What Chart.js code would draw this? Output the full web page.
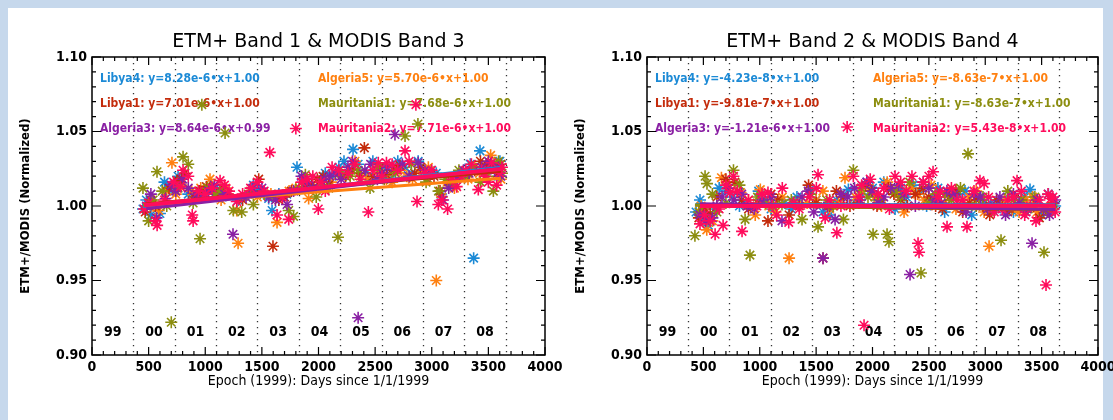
<!DOCTYPE html>
<html>
<head>
<meta charset="utf-8">
<script src="https://cdn.jsdelivr.net/npm/chart.js@4.4.1/dist/chart.umd.min.js"></script>
<style>
  html, body { margin: 0; padding: 0; background: #c6d8ec; width: 1113px; height: 420px; overflow: hidden; }
  #panel { position: absolute; left: 8px; top: 8px; width: 1095px; height: 412px; background: #fff; }
  #c1 { position: absolute; left: 8px; top: 8px; }
  #c2 { position: absolute; left: 556px; top: 8px; }
</style>
</head>
<body>
<div id="panel"></div>
<canvas id="c1" width="560" height="412"></canvas>
<canvas id="c2" width="557" height="412"></canvas>
<script>
// ================= DATA =================
const sites = ['Libya4', 'Algeria5', 'Libya1', 'Mauritania1', 'Algeria3', 'Mauritania2'];
const siteColors = ['#1c8ad6', '#ff8010', '#c42c0c', '#8c8e10', '#8a20a4', '#ff0c5c'];

// year boundaries (days since 1/1/1999) and their labels
const yearStarts = [0, 365, 731, 1096, 1461, 1826, 2192, 2557, 2922, 3287, 3653];
const yearLabels = ['99', '00', '01', '02', '03', '04', '05', '06', '07', '08'];
const xTicks = [0, 500, 1000, 1500, 2000, 2500, 3000, 3500, 4000];
const yTicks = [0.90, 0.95, 1.00, 1.05, 1.10];

// fit coefficients
const band1Slopes = [8.28e-6, 5.70e-6, 7.01e-6, 7.68e-6, 8.64e-6, 7.71e-6];
const band1Intercepts = [0.996, 0.998, 0.998, 0.997, 0.994, 0.997];
const band2Slopes = [-4.23e-8, -8.63e-7, -9.81e-7, -8.63e-7, -1.21e-6, 5.43e-8];
const band2Intercepts = [1.001, 1.001, 1.001, 1.001, 1.002, 1.000];

// ETM+ Band 1 / MODIS Band 3 : [day, ratio]
const band1Libya4 = [[450,0.998],[480,1.004],[520,0.994],[600,0.995],[640,1.016],[690,1.013],[720,1.010],[760,1.020],[850,1.008],[960,1.010],[1000,1.006],[1060,1.012],[1110,1.010],[1150,1.006],[1290,1.004],[1425,1.014],[1470,1.010],[1560,1.005],[1590,0.997],[1650,1.008],[1720,1.008],[1810,1.026],[1860,1.018],[1900,1.014],[2010,1.016],[2060,1.022],[2120,1.020],[2180,1.026],[2225,1.030],[2305,1.038],[2350,1.028],[2420,1.022],[2480,1.030],[2560,1.024],[2600,1.026],[2640,1.018],[2700,1.030],[2760,1.026],[2820,1.022],[2880,1.030],[2990,1.024],[3040,1.022],[3080,1.008],[3180,1.015],[3300,1.022],[3340,1.028],[3370,0.965],[3426,1.037],[3460,1.022],[3500,1.026],[3550,1.028],[3590,1.020],[3602,1.030]];
const band1Algeria5 = [[500,1.002],[540,1.000],[590,0.997],[660,1.010],[706,1.029],[740,1.008],[790,1.014],[880,1.010],[960,1.012],[1042,1.018],[1140,1.004],[1180,1.012],[1278,0.997],[1290,0.975],[1400,1.010],[1460,1.006],[1520,1.008],[1580,1.008],[1634,0.989],[1740,1.010],[1800,1.012],[1913,1.005],[2000,1.014],[2050,1.018],[2110,1.016],[2200,1.020],[2270,1.024],[2322,1.030],[2370,1.020],[2430,1.018],[2540,1.022],[2600,1.018],[2650,1.016],[2720,1.024],[2780,1.020],[2830,1.018],[2900,1.022],[2970,1.026],[3040,0.950],[3090,1.006],[3150,1.014],[3200,1.012],[3320,1.018],[3380,1.026],[3420,1.022],[3470,1.024],[3520,1.034],[3570,1.028],[3610,1.018]];
const band1Libya1 = [[470,0.996],[520,1.004],[560,1.000],[680,1.012],[750,1.017],[790,1.018],[820,1.022],[900,1.006],[950,1.010],[1010,1.013],[1100,1.008],[1150,1.012],[1200,1.008],[1330,1.004],[1420,1.010],[1472,1.018],[1598,0.973],[1650,1.004],[1700,1.006],[1760,1.010],[1880,1.012],[1940,1.014],[1990,1.018],[2040,1.020],[2090,1.014],[2180,1.022],[2240,1.020],[2300,1.024],[2360,1.022],[2405,1.039],[2480,1.020],[2540,1.026],[2600,1.021],[2660,1.024],[2720,1.027],[2850,1.022],[2900,1.026],[2960,1.018],[3020,1.020],[3073,1.010],[3150,1.016],[3260,1.020],[3320,1.022],[3380,1.024],[3430,1.030],[3480,1.028],[3540,1.026],[3580,1.022],[3610,1.028]];
const band1Mauritania1 = [[450,1.012],[500,0.990],[540,1.004],[574,1.023],[620,1.010],[660,1.000],[700,0.922],[760,1.012],[804,1.033],[850,1.028],[893,1.002],[954,0.978],[970,1.068],[1020,1.012],[1080,1.008],[1130,1.010],[1175,1.049],[1248,0.997],[1322,0.996],[1380,1.008],[1425,1.001],[1520,1.008],[1600,1.006],[1737,0.997],[1780,0.993],[1830,1.012],[1884,1.021],[1980,1.006],[2030,1.016],[2090,1.012],[2172,0.979],[2200,1.022],[2280,1.020],[2350,1.024],[2455,1.012],[2520,1.026],[2580,1.018],[2680,1.022],[2764,1.047],[2820,1.028],[2878,1.055],[2950,1.016],[3060,1.010],[3120,1.018],[3190,1.014],[3240,1.024],[3300,1.020],[3360,1.026],[3430,1.016],[3490,1.020],[3544,1.010],[3590,1.030],[3620,1.022]];
const band1Algeria3 = [[480,1.000],[520,1.008],[570,0.992],[650,1.005],[700,1.014],[740,1.010],[800,1.018],[850,1.012],[920,1.008],[980,1.006],[1030,1.010],[1080,1.014],[1170,1.008],[1245,0.981],[1360,1.006],[1420,1.012],[1500,1.012],[1560,1.006],[1620,1.004],[1722,1.001],[1780,1.010],[1850,1.020],[1900,1.016],[1950,1.012],[2050,1.018],[2100,1.020],[2150,1.022],[2200,1.018],[2260,1.026],[2300,1.030],[2350,0.925],[2410,1.024],[2460,1.028],[2520,1.018],[2560,1.022],[2610,1.026],[2675,1.048],[2740,1.028],[2800,1.020],[2880,1.029],[2940,1.024],[2990,1.022],[3100,1.004],[3150,1.012],[3220,1.018],[3280,1.024],[3330,1.022],[3440,1.026],[3500,1.030],[3555,1.024],[3590,1.026],[3610,1.020]];
const band1Mauritania2 = [[460,0.998],[500,1.002],[560,0.990],[575,0.987],[640,1.004],[720,1.016],[780,1.013],[804,1.024],[850,1.020],[885,0.994],[893,0.990],[940,1.010],[1000,1.008],[1060,1.012],[1131,1.017],[1170,1.014],[1210,1.010],[1278,1.003],[1330,1.008],[1400,1.012],[1460,1.016],[1520,1.010],[1570,1.036],[1634,0.994],[1680,1.006],[1737,0.991],[1800,1.052],[1850,1.016],[1898,1.018],[1950,1.020],[1998,0.998],[2020,1.016],[2060,1.010],[2120,1.026],[2180,1.024],[2260,1.022],[2320,1.028],[2370,1.018],[2440,0.996],[2480,1.024],[2528,1.029],[2560,1.020],[2600,1.029],[2650,1.028],[2700,1.024],[2764,1.037],[2800,1.030],[2860,1.068],[2870,1.003],[2940,1.022],[3000,1.024],[3058,1.001],[3088,1.004],[3140,0.998],[3180,1.018],[3220,1.013],[3260,1.020],[3300,1.024],[3350,1.028],[3411,1.011],[3440,1.024],[3470,1.020],[3500,1.016],[3529,1.029],[3573,1.014],[3600,1.022],[3620,1.026]];

// ETM+ Band 2 / MODIS Band 4 : [day, ratio]
const band2Libya4 = [[435,0.996],[470,1.004],[520,0.993],[545,0.987],[600,0.998],[640,1.012],[700,1.010],[760,1.006],[820,1.000],[880,1.002],[990,1.010],[1050,1.004],[1100,0.998],[1220,1.002],[1280,0.998],[1330,1.006],[1448,1.011],[1500,1.004],[1560,0.996],[1620,0.994],[1680,1.004],[1786,1.011],[1850,1.002],[1900,1.008],[1950,1.016],[2000,1.012],[2050,1.004],[2100,1.016],[2200,0.998],[2250,1.012],[2300,1.006],[2360,1.014],[2420,1.010],[2480,1.000],[2530,1.004],[2580,1.012],[2640,0.996],[2700,1.004],[2760,1.008],[2820,1.010],[2880,0.994],[2950,1.006],[2990,1.002],[3050,1.002],[3100,0.998],[3200,1.006],[3250,0.996],[3300,1.000],[3350,1.006],[3397,1.011],[3450,1.002],[3500,0.994],[3560,1.008],[3620,1.000]];
const band2Algeria5 = [[480,1.000],[530,0.984],[580,0.990],[660,1.019],[720,1.014],[830,1.009],[900,1.004],[960,0.994],[1005,1.011],[1080,1.000],[1140,0.996],[1200,1.006],[1260,0.965],[1350,1.002],[1420,1.002],[1500,1.004],[1560,1.010],[1620,0.998],[1700,1.002],[1756,1.019],[1850,1.006],[1900,1.010],[1960,1.014],[2020,1.006],[2080,1.000],[2130,1.016],[2180,1.010],[2230,1.008],[2280,0.996],[2340,1.012],[2400,1.008],[2460,1.004],[2520,1.014],[2580,1.006],[2640,1.002],[2700,1.010],[2740,0.998],[2800,1.002],[2860,1.006],[2920,1.010],[2990,0.996],[3034,0.973],[3120,1.002],[3180,1.004],[3240,0.998],[3300,0.996],[3360,1.004],[3420,1.006],[3460,0.996],[3540,0.998],[3590,1.002]];
const band2Libya1 = [[460,0.992],[510,0.998],[560,0.995],[620,1.006],[700,1.018],[780,1.016],[840,1.004],[900,0.998],[980,1.002],[1073,0.990],[1100,1.008],[1160,1.004],[1260,0.994],[1350,1.000],[1433,1.014],[1500,1.002],[1561,0.965],[1620,1.000],[1680,1.010],[1740,1.006],[1800,1.000],[1880,1.002],[1940,1.014],[1990,1.010],[2040,1.000],[2080,1.004],[2140,1.012],[2190,1.008],[2250,1.004],[2310,1.000],[2380,1.008],[2450,1.012],[2500,1.006],[2560,1.000],[2620,0.998],[2680,1.006],[2740,1.010],[2800,0.996],[2860,1.002],[2920,1.004],[2980,1.000],[3040,0.994],[3100,1.004],[3150,1.000],[3200,0.996],[3260,1.006],[3320,1.004],[3370,0.998],[3430,1.000],[3480,0.992],[3550,0.996],[3600,1.002]];
const band2Mauritania1 = [[425,0.980],[460,0.996],[515,1.020],[532,1.015],[580,1.008],[620,0.996],[700,1.002],[767,1.024],[820,1.014],[870,0.991],[913,0.967],[980,1.006],[1050,1.002],[1120,1.000],[1197,1.001],[1280,1.004],[1375,0.991],[1450,1.008],[1517,0.986],[1595,1.004],[1650,1.000],[1742,0.991],[1830,1.024],[1900,1.012],[1960,1.006],[2005,0.981],[2060,1.004],[2129,0.981],[2146,0.976],[2200,1.010],[2250,1.006],[2330,1.016],[2430,0.955],[2500,1.002],[2560,1.008],[2640,1.008],[2700,1.004],[2780,1.012],[2847,1.035],[2920,1.000],[2980,1.006],[3060,0.998],[3140,0.977],[3200,1.010],[3250,1.004],[3320,1.004],[3380,0.998],[3440,1.006],[3521,0.969],[3560,0.996],[3600,0.998]];
const band2Algeria3 = [[470,0.994],[520,0.990],[580,0.992],[620,1.000],[665,1.006],[720,1.012],[770,1.004],[840,1.008],[890,1.000],[950,0.998],[1020,1.004],[1100,1.006],[1197,0.990],[1300,1.002],[1375,1.006],[1430,1.010],[1480,0.996],[1561,0.965],[1600,1.000],[1668,0.991],[1720,1.008],[1780,1.006],[1840,1.012],[1890,1.004],[1950,1.016],[2000,1.010],[2050,1.002],[2100,1.006],[2160,1.012],[2230,1.014],[2280,1.008],[2333,0.954],[2380,1.000],[2450,1.016],[2500,1.012],[2550,1.004],[2610,1.002],[2660,1.010],[2720,1.008],[2780,1.000],[2830,0.996],[2900,1.008],[2960,1.006],[3020,0.998],[3080,1.000],[3130,1.006],[3180,0.994],[3250,1.008],[3300,1.002],[3360,0.996],[3415,0.975],[3460,1.004],[3520,0.998],[3570,0.994],[3620,1.004]];
const band2Mauritania2 = [[470,0.988],[510,0.994],[560,0.990],[604,0.981],[640,0.998],[675,0.987],[700,1.014],[736,1.009],[767,1.020],[800,1.010],[843,0.983],[900,1.004],[975,1.000],[1020,1.008],[1073,1.009],[1110,1.000],[1150,0.994],[1200,1.012],[1257,0.989],[1300,1.002],[1350,0.998],[1440,1.006],[1502,1.012],[1517,1.021],[1580,0.992],[1620,1.004],[1684,0.982],[1720,1.000],[1775,1.053],[1830,1.020],[1880,1.006],[1904,1.014],[1925,0.920],[1980,1.018],[2050,1.008],[2100,1.012],[2150,0.998],[2200,1.020],[2250,1.016],[2300,1.010],[2350,1.020],[2404,0.975],[2413,0.969],[2450,1.016],[2500,1.020],[2537,1.023],[2580,1.006],[2600,1.010],[2661,0.986],[2700,1.012],[2750,1.004],[2800,1.004],[2838,0.986],[2900,1.010],[2953,1.017],[2990,1.015],[3030,1.006],[3080,0.996],[3150,0.998],[3200,1.004],[3250,1.006],[3282,1.017],[3320,1.010],[3350,0.994],[3400,1.000],[3450,0.990],[3480,1.004],[3539,0.947],[3557,1.008],[3583,1.005],[3600,1.006],[3620,0.996]];

const band1Points = [band1Libya4, band1Algeria5, band1Libya1, band1Mauritania1, band1Algeria3, band1Mauritania2];
const band2Points = [band2Libya4, band2Algeria5, band2Libya1, band2Mauritania1, band2Algeria3, band2Mauritania2];

const yearLabelY = 0.915;
const FONT = '"DejaVu Sans Condensed", "DejaVu Sans", sans-serif';

// ================= FRAME PLUGIN (IDL style box, ticks, text) =================
const idlFrame = {
    id: 'idlFrame',
    beforeDatasetsDraw(chart, args, opts) {
        const { ctx, chartArea: a, scales: { x, y } } = chart;
        ctx.save();
        // dotted year separators
        ctx.strokeStyle = '#333';
        ctx.lineWidth = 1.3;
        ctx.setLineDash([1.3, 4.7]);
        yearStarts.slice(1).forEach(d => {
            const px = Math.round(x.getPixelForValue(d)) + 0.5;
            ctx.beginPath();
            ctx.moveTo(px, a.top);
            ctx.lineTo(px, a.bottom);
            ctx.stroke();
        });
        ctx.setLineDash([]);
        // year labels
        ctx.fillStyle = '#000';
        ctx.font = `bold 14px ${FONT}`;
        ctx.textAlign = 'center';
        ctx.textBaseline = 'middle';
        yearLabels.forEach((lab, i) => {
            const mid = (yearStarts[i] + yearStarts[i + 1]) / 2;
            ctx.fillText(lab, x.getPixelForValue(mid), y.getPixelForValue(yearLabelY));
        });
        // fit equations
        ctx.font = `bold 12px ${FONT}`;
        ctx.textAlign = 'left';
        opts.equations.forEach((t, i) => {
            ctx.fillStyle = siteColors[i];
            ctx.fillText(t, a.left + 8 + (i % 2) * 218, a.top + 22 + Math.floor(i / 2) * 25);
        });
        ctx.restore();
    },
    afterDatasetsDraw(chart, args, opts) {
        const { ctx, chartArea: a, scales: { x, y } } = chart;
        ctx.save();
        ctx.strokeStyle = '#000';
        ctx.lineWidth = 1.5;
        ctx.strokeRect(a.left, a.top, a.right - a.left, a.bottom - a.top);
        ctx.lineWidth = 1.2;
        ctx.beginPath();
        for (let d = 0; d <= 4000; d += 100) {
            const px = x.getPixelForValue(d);
            const len = d % 500 === 0 ? 8 : 4;
            ctx.moveTo(px, a.bottom); ctx.lineTo(px, a.bottom - len);
            ctx.moveTo(px, a.top); ctx.lineTo(px, a.top + len);
        }
        for (let k = 0; k <= 20; k++) {
            const py = y.getPixelForValue(0.9 + k * 0.01);
            const len = k % 5 === 0 ? 9 : 4;
            ctx.moveTo(a.left, py); ctx.lineTo(a.left + len, py);
            ctx.moveTo(a.right, py); ctx.lineTo(a.right - len, py);
        }
        ctx.stroke();
        // titles
        ctx.fillStyle = '#000';
        ctx.textAlign = 'center';
        ctx.textBaseline = 'middle';
        const cx = (a.left + a.right) / 2;
        ctx.font = '19px "DejaVu Sans", sans-serif';
        ctx.fillText(opts.title, cx, a.top - 15);
        ctx.font = `14px ${FONT}`;
        ctx.fillText('Epoch (1999): Days since 1/1/1999', cx, a.bottom + 26);
        ctx.font = `bold 13px ${FONT}`;
        ctx.translate(a.left - 66, (a.top + a.bottom) / 2);
        ctx.rotate(-Math.PI / 2);
        ctx.fillText('ETM+/MODIS (Normalized)', 0, 0);
        ctx.restore();
    }
};

function equationText(i, slopes, intercepts) {
    return `${sites[i]}: y=${slopes[i].toExponential(2)}\u2022x+${intercepts[i].toFixed(2)}`;
}

function buildChart(canvasId, title, points, slopes, intercepts, axisWidth, rightPad) {
    const datasets = [];
    // fit lines (pink ends on top)
    sites.forEach((s, i) => {
        const xs = points[i].map(p => p[0]);
        const x0 = Math.min(...xs), x1 = Math.max(...xs);
        datasets.push({
            label: s + ' fit',
            data: [{ x: x0, y: intercepts[i] + slopes[i] * x0 }, { x: x1, y: intercepts[i] + slopes[i] * x1 }],
            showLine: true,
            borderColor: siteColors[i],
            borderWidth: i === sites.length - 1 ? 4 : 3,
            pointRadius: 0,
            order: sites.length - i
        });
    });
    // measurements
    sites.forEach((s, i) => {
        datasets.push({
            label: s,
            data: points[i].map(p => ({ x: p[0], y: p[1] })),
            pointStyle: 'star',
            pointRadius: 6,
            borderWidth: 1.6,
            borderColor: siteColors[i],
            backgroundColor: siteColors[i],
            order: 20 + sites.length - i
        });
    });

    return new Chart(document.getElementById(canvasId), {
        type: 'scatter',
        data: { datasets },
        options: {
            responsive: false,
            animation: false,
            layout: { padding: { left: 0, top: 49, right: rightPad, bottom: 0 } },
            plugins: {
                legend: { display: false },
                tooltip: { enabled: false },
                idlFrame: {
                    title,
                    equations: sites.map((s, i) => equationText(i, slopes, intercepts))
                }
            },
            scales: {
                x: {
                    type: 'linear', min: 0, max: 4000,
                    grid: { display: false, drawTicks: false },
                    border: { display: false },
                    afterBuildTicks: s => { s.ticks = xTicks.map(v => ({ value: v })); },
                    ticks: { color: '#000', padding: 4, maxRotation: 0, autoSkip: false,
                             font: { family: FONT, size: 14, weight: 'bold' }, callback: v => String(v) },
                    afterFit: s => { s.height = 65; s.paddingLeft = 0; s.paddingRight = 0; }
                },
                y: {
                    type: 'linear', min: 0.9, max: 1.1,
                    grid: { display: false, drawTicks: false },
                    border: { display: false },
                    afterBuildTicks: s => { s.ticks = yTicks.map(v => ({ value: v })); },
                    ticks: { color: '#000', padding: 5, autoSkip: false,
                             font: { family: FONT, size: 14, weight: 'bold' }, callback: v => v.toFixed(2) },
                    afterFit: s => { s.width = axisWidth; s.paddingTop = 0; s.paddingBottom = 0; }
                }
            }
        },
        plugins: [idlFrame]
    });
}

document.addEventListener('DOMContentLoaded', () => {
    buildChart('c1', 'ETM+ Band 1 & MODIS Band 3', band1Points, band1Slopes, band1Intercepts, 84, 23);
    buildChart('c2', 'ETM+ Band 2 & MODIS Band 4', band2Points, band2Slopes, band2Intercepts, 91, 15);
});
</script>
</body>
</html>
